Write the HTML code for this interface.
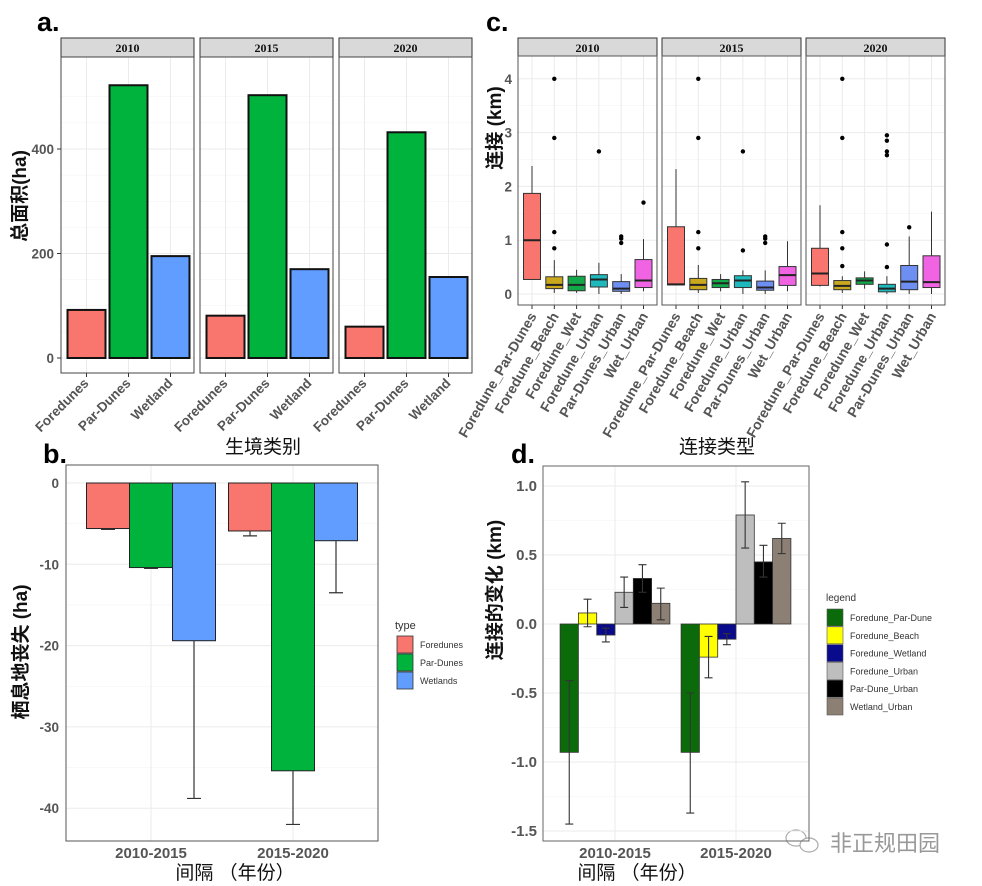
<!DOCTYPE html>
<html><head><meta charset="utf-8"><style>
html,body{margin:0;padding:0;background:#fff;}
svg{display:block;}
text{font-family:"Liberation Sans","Noto Sans CJK SC",sans-serif;}
.tick{font-size:13.5px;font-weight:bold;fill:#555;}
.strip{font-family:"Liberation Serif","Noto Serif CJK SC",serif;font-size:12px;font-weight:bold;fill:#111;}
.title{font-size:19px;font-weight:bold;fill:#111;}
.xtitle{font-size:19px;fill:#111;}
.letter{font-size:27px;font-weight:bold;fill:#000;}
.leg{font-size:9px;fill:#333;}
</style></head><body>
<svg id="fig" width="982" height="886" viewBox="0 0 982 886" xmlns="http://www.w3.org/2000/svg">
<rect x="0" y="0" width="982" height="886" fill="#fff"/>
<text class="letter" x="37" y="31">a.</text>
<text class="letter" x="43" y="463">b.</text>
<text class="letter" x="486" y="31">c.</text>
<text class="letter" x="511" y="463">d.</text>
<text class="xtitle" x="263" y="453" text-anchor="middle">生境类别</text>
<text class="xtitle" x="717" y="453" text-anchor="middle">连接类型</text>
<text class="xtitle" x="235" y="879" text-anchor="middle">间隔 （年份）</text>
<text class="xtitle" x="637" y="879" text-anchor="middle">间隔 （年份）</text>
<text class="title" transform="translate(26,196) rotate(-90)" text-anchor="middle">总面积(ha)</text>
<text class="title" transform="translate(27,652) rotate(-90)" text-anchor="middle">栖息地丧失 (ha)</text>
<text class="title" transform="translate(501,128) rotate(-90)" text-anchor="middle">连接 (km)</text>
<text class="title" transform="translate(501,590) rotate(-90)" text-anchor="middle">连接的变化 (km)</text>
<g>
<ellipse cx="796" cy="838" rx="10" ry="8" fill="none" stroke="#aaa" stroke-width="1.2"/>
<ellipse cx="809" cy="845" rx="9" ry="7" fill="#fff" stroke="#aaa" stroke-width="1.2"/>
<text x="830" y="851" font-size="22" fill="#999">非正规田园</text>
</g>
</svg>
<script>
// ---------- Panel a data ----------
const aYears = ["2010","2015","2020"];
const aCats = ["Foredunes","Par-Dunes","Wetland"];
const aForedunes = [92, 81, 60];
const aParDunes = [522, 503, 432];
const aWetland = [195, 170, 155];
const aTicks = [0, 200, 400];
const aColors = ["#F8766D","#00B33C","#619CFF"];

// ---------- Panel b data ----------
const bGroups = ["2010-2015","2015-2020"];
const bTypes = ["Foredunes","Par-Dunes","Wetlands"];
const bForedunes = [-5.6, -5.9];
const bParDunes = [-10.4, -35.4];
const bWetlands = [-19.4, -7.1];
const bForedunesErr = [-5.7, -6.5];
const bParDunesErr = [-10.5, -42.0];
const bWetlandsErr = [-38.8, -13.5];
const bTicks = [0, -10, -20, -30, -40];

// ---------- Panel c data ----------
const cYears = ["2010","2015","2020"];
const cCats = ["Foredune_Par-Dunes","Foredune_Beach","Foredune_Wet","Foredune_Urban","Par-Dunes_Urban","Wet_Urban"];
const cColors = ["#F8766D","#C9A81E","#12A84A","#1DB9BC","#6E8FF2","#F064E3"];
const cQ1_2010 = [0.27,0.10,0.06,0.13,0.05,0.12];
const cMed_2010 = [1.00,0.17,0.17,0.27,0.10,0.25];
const cQ3_2010 = [1.87,0.32,0.33,0.36,0.23,0.64];
const cLo_2010 = [0.27,0.02,0.02,0.00,0.00,0.05];
const cHi_2010 = [2.38,0.63,0.45,0.58,0.37,1.02];
const cOut_2010 = [[],[0.85,1.15,2.9,4.0],[],[2.65],[0.95,1.03,1.07],[1.7]];
const cQ1_2015 = [0.17,0.08,0.12,0.12,0.07,0.16];
const cMed_2015 = [0.18,0.17,0.20,0.25,0.12,0.35];
const cQ3_2015 = [1.25,0.29,0.27,0.34,0.24,0.51];
const cLo_2015 = [0.17,0.02,0.05,0.00,0.00,0.05];
const cHi_2015 = [2.32,0.54,0.37,0.44,0.44,0.98];
const cOut_2015 = [[],[0.85,1.15,2.9,4.0],[],[0.81,2.65],[0.95,1.03,1.07],[]];
const cQ1_2020 = [0.16,0.08,0.18,0.04,0.08,0.12];
const cMed_2020 = [0.38,0.15,0.25,0.10,0.23,0.22];
const cQ3_2020 = [0.85,0.25,0.30,0.18,0.53,0.71];
const cLo_2020 = [0.14,0.02,0.10,0.00,0.00,0.00];
const cHi_2020 = [1.65,0.33,0.42,0.33,1.07,1.53];
const cOut_2020 = [[],[0.52,0.85,1.15,2.9,4.0],[],[0.5,0.92,2.58,2.65,2.85,2.95],[1.24],[]];
const cTicks = [0,1,2,3,4];

// ---------- Panel d data ----------
const dGroups = ["2010-2015","2015-2020"];
const dSeries = ["Foredune_Par-Dune","Foredune_Beach","Foredune_Wetland","Foredune_Urban","Par-Dune_Urban","Wetland_Urban"];
const dColors = ["#0B6B0B","#FFFF00","#0A0A8C","#BEBEBE","#000000","#8C7F73"];
const d2010_2015 = [-0.93, 0.08, -0.08, 0.23, 0.33, 0.15];
const d2015_2020 = [-0.93, -0.24, -0.11, 0.79, 0.45, 0.62];
const dLow2010_2015 = [-1.45, -0.02, -0.13, 0.12, 0.23, 0.03];
const dHigh2010_2015 = [-0.41, 0.18, -0.03, 0.34, 0.43, 0.26];
const dLow2015_2020 = [-1.37, -0.39, -0.15, 0.55, 0.34, 0.51];
const dHigh2015_2020 = [-0.50, -0.09, -0.07, 1.03, 0.57, 0.73];
const dTicks = [1.0, 0.5, 0.0, -0.5, -1.0, -1.5];

const NS = "http://www.w3.org/2000/svg";
const svg = document.getElementById("fig");
function mk(tag, attrs, parent){
  const e = document.createElementNS(NS, tag);
  for (const k in attrs) e.setAttribute(k, attrs[k]);
  (parent||svg).appendChild(e);
  return e;
}
let el;

// ===== Panel a =====
const aY = v => 358 - v * (209/400);
const aFx = [61, 200, 339], aFw = 133;
aYears.forEach((yr, f) => {
  const x0 = aFx[f];
  el = mk("rect",{x:x0,y:38,width:aFw,height:19,fill:"#d9d9d9",stroke:"#333","stroke-width":1});
  
  
  el = mk("text",{x:x0+aFw/2,y:52,"text-anchor":"middle",class:"strip"});
  el.textContent = yr;
  
  
  [50,100,150,250,300,350,450,500].forEach(v=>{
    el = mk("line",{x1:x0,x2:x0+aFw,y1:aY(v),y2:aY(v),stroke:"#f3f3f3","stroke-width":0.6});
    
    
  });
  aTicks.forEach(v=>{
    el = mk("line",{x1:x0,x2:x0+aFw,y1:aY(v),y2:aY(v),stroke:"#ebebeb","stroke-width":1});
    
    
  });
  const vals = [aForedunes[f], aParDunes[f], aWetland[f]];
  aCats.forEach((c,i)=>{
    const cx = x0 + 25.5 + i*42;
    el = mk("line",{x1:cx,x2:cx,y1:57,y2:373,stroke:"#ebebeb","stroke-width":1});
    
    
    el = mk("rect",{x:cx-19,y:aY(vals[i]),width:38,height:aY(0)-aY(vals[i]),fill:aColors[i],stroke:"#111","stroke-width":2});
    
    
    el = mk("line",{x1:cx,x2:cx,y1:373,y2:377,stroke:"#333"});
    
    
    el = mk("text",{x:cx+3,y:384,"text-anchor":"end",class:"tick",transform:`rotate(-45 ${cx+3} 384)`});
    el.textContent = c;
    
    
  });
  el = mk("rect",{x:x0,y:57,width:aFw,height:316,fill:"none",stroke:"#444","stroke-width":1});
  
  
});
aTicks.forEach(v=>{
  el = mk("text",{x:54,y:aY(v)+5,"text-anchor":"end",class:"tick"});
  el.textContent = v;
  
  
  el = mk("line",{x1:57,x2:61,y1:aY(v),y2:aY(v),stroke:"#333"});
  
  
});

// ===== Panel b =====
function bYf(v){ return 483 - v * 8.13; }
const bL=66,bR=378,bT=465,bB=841;
[-5,-15,-25,-35].forEach(v=>{
  el = mk("line",{x1:bL,x2:bR,y1:bYf(v),y2:bYf(v),stroke:"#f3f3f3","stroke-width":0.6});
  
  
});
bTicks.forEach(v=>{
  el = mk("line",{x1:bL,x2:bR,y1:bYf(v),y2:bYf(v),stroke:"#ebebeb"});
  
  
  el = mk("text",{x:59,y:bYf(v)+5,"text-anchor":"end",class:"tick"});
  el.textContent = v;
  
  
});
const bCenters = [151, 293];
bGroups.forEach((g,gi)=>{
  const cx = bCenters[gi];
  el = mk("line",{x1:cx,x2:cx,y1:bT,y2:bB,stroke:"#ebebeb"});
  
  
  const vals=[bForedunes[gi],bParDunes[gi],bWetlands[gi]];
  const errs=[bForedunesErr[gi],bParDunesErr[gi],bWetlandsErr[gi]];
  bTypes.forEach((t,i)=>{
    const x = cx - 64.5 + i*43;
    el = mk("rect",{x:x,y:bYf(0),width:43,height:bYf(vals[i])-bYf(0),fill:aColors[i],stroke:"#222","stroke-width":1});
    
    
    const ex = x+21.5;
    el = mk("path",{d:`M${ex} ${bYf(vals[i])}V${bYf(errs[i])}M${ex-7} ${bYf(errs[i])}H${ex+7}`,stroke:"#333","stroke-width":1.2,fill:"none"});
    
    
  });
  el = mk("text",{x:cx,y:858,"text-anchor":"middle",class:"tick",style:"font-size:15px"});
  el.textContent = g;
  
  
});
el = mk("rect",{x:bL,y:bT,width:bR-bL,height:bB-bT,fill:"none",stroke:"#555"});


el = mk("text",{x:395,y:629,class:"leg",style:"font-size:11px"});
el.textContent = "type";


bTypes.forEach((t,i)=>{
  el = mk("rect",{x:397,y:636+i*18,width:16,height:17,fill:aColors[i],stroke:"#333","stroke-width":0.8});
  
  
  el = mk("text",{x:420,y:648+i*18,class:"leg"});
  el.textContent = t;
  
  
});

// ===== Panel c =====
const cY = v => 294 - v * 53.8;
const cFx = [518, 662, 806], cFw = 139;
cYears.forEach((yr,f)=>{
  const x0 = cFx[f];
  el = mk("rect",{x:x0,y:38,width:cFw,height:18,fill:"#d9d9d9",stroke:"#333"});
  
  
  el = mk("text",{x:x0+cFw/2,y:52,"text-anchor":"middle",class:"strip"});
  el.textContent = yr;
  
  
  [0.5,1.5,2.5,3.5].forEach(v=>{
    el = mk("line",{x1:x0,x2:x0+cFw,y1:cY(v),y2:cY(v),stroke:"#f3f3f3","stroke-width":0.6});
    
    
  });
  cTicks.forEach(v=>{
    el = mk("line",{x1:x0,x2:x0+cFw,y1:cY(v),y2:cY(v),stroke:"#ebebeb"});
    
    
  });
  const q1s = [cQ1_2010,cQ1_2015,cQ1_2020][f], meds=[cMed_2010,cMed_2015,cMed_2020][f], q3s=[cQ3_2010,cQ3_2015,cQ3_2020][f],
        los=[cLo_2010,cLo_2015,cLo_2020][f], his=[cHi_2010,cHi_2015,cHi_2020][f], outs=[cOut_2010,cOut_2015,cOut_2020][f];
  cCats.forEach((c,i)=>{
    const cx = x0 + 14 + i*22.3;
    el = mk("line",{x1:cx,x2:cx,y1:56,y2:305,stroke:"#ebebeb"});
    
    
    el = mk("line",{x1:cx,x2:cx,y1:cY(his[i]),y2:cY(los[i]),stroke:"#333","stroke-width":1});
    
    
    el = mk("rect",{x:cx-8.5,y:cY(q3s[i]),width:17,height:Math.max(1,cY(q1s[i])-cY(q3s[i])),fill:cColors[i],stroke:"#333","stroke-width":1});
    
    
    el = mk("line",{x1:cx-8.5,x2:cx+8.5,y1:cY(meds[i]),y2:cY(meds[i]),stroke:"#222","stroke-width":2});
    
    
    outs[i].forEach(o=>{
      el = mk("circle",{cx:cx,cy:cY(o),r:2.2,fill:"#000"});
      
      
    });
    el = mk("line",{x1:cx,x2:cx,y1:305,y2:309,stroke:"#333"});
    
    
    el = mk("text",{x:cx+5,y:316,"text-anchor":"end",class:"tick",style:"font-size:14px",transform:`rotate(-60 ${cx+5} 316)`});
    el.textContent = c;
    
    
  });
  el = mk("rect",{x:x0,y:56,width:cFw,height:249,fill:"none",stroke:"#555"});
  
  
});
cTicks.forEach(v=>{
  el = mk("text",{x:512,y:cY(v)+5,"text-anchor":"end",class:"tick"});
  el.textContent = v;
  
  
});

// ===== Panel d =====
const dY = v => 624 - v * 138;
const dL=543,dR=809,dT=466,dB=841;
[0.75,0.25,-0.25,-0.75,-1.25].forEach(v=>{
  el = mk("line",{x1:dL,x2:dR,y1:dY(v),y2:dY(v),stroke:"#f3f3f3","stroke-width":0.6});
  
  
});
dTicks.forEach(v=>{
  el = mk("line",{x1:dL,x2:dR,y1:dY(v),y2:dY(v),stroke:"#ebebeb"});
  
  
  el = mk("text",{x:537,y:dY(v)+5,"text-anchor":"end",class:"tick",style:"font-size:15px"});
  el.textContent = v.toFixed(1);
  
  
});
const dCenters = [615, 736];
const dVals = [d2010_2015, d2015_2020], dLows=[dLow2010_2015,dLow2015_2020], dHighs=[dHigh2010_2015,dHigh2015_2020];
dGroups.forEach((g,gi)=>{
  const cx = dCenters[gi];
  el = mk("line",{x1:cx,x2:cx,y1:dT,y2:dB,stroke:"#ebebeb"});
  
  
  dSeries.forEach((s,i)=>{
    const w = 18.3, x = cx - 3*w + i*w, v = dVals[gi][i];
    el = mk("rect",{x:x,y:Math.min(dY(v),dY(0)),width:w,height:Math.abs(dY(v)-dY(0)),fill:dColors[i],stroke:"#333","stroke-width":0.8});
    
    
    const ex = x + w/2, lo = dY(dLows[gi][i]), hi = dY(dHighs[gi][i]);
    el = mk("path",{d:`M${ex} ${hi}V${lo}M${ex-4} ${hi}H${ex+4}M${ex-4} ${lo}H${ex+4}`,stroke:"#333","stroke-width":1.1,fill:"none"});
    
    
  });
  el = mk("text",{x:cx,y:858,"text-anchor":"middle",class:"tick",style:"font-size:15px"});
  el.textContent = g;
  
  
});
el = mk("rect",{x:dL,y:dT,width:dR-dL,height:dB-dT,fill:"none",stroke:"#666"});


el = mk("text",{x:826,y:601,class:"leg",style:"font-size:10px"});
el.textContent = "legend";


dSeries.forEach((s,i)=>{
  el = mk("rect",{x:827,y:609+i*17.8,width:16,height:17,fill:dColors[i],stroke:"#555","stroke-width":0.6});
  
  
  el = mk("text",{x:850,y:621+i*17.8,class:"leg"});
  el.textContent = s;
  
  
});
</script>
</body></html>
